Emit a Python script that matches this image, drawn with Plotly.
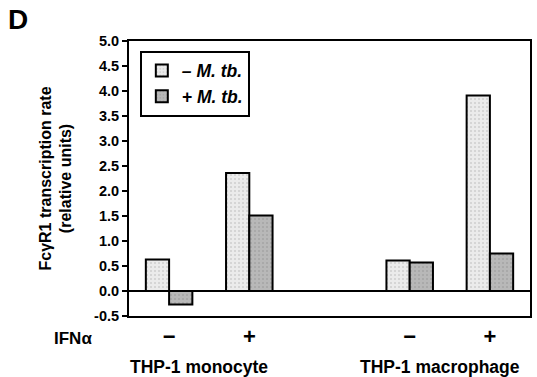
import plotly.graph_objects as go

cell_types = ["THP-1 monocyte", "THP-1 macrophage"]
ifn_labels = ["\u2212", "+", "\u2212", "+"]
minus_mtb = [0.63, 2.36, 0.61, 3.91]
plus_mtb = [-0.27, 1.51, 0.57, 0.75]
y_ticks = [-0.5, 0.0, 0.5, 1.0, 1.5, 2.0, 2.5, 3.0, 3.5, 4.0, 4.5, 5.0]

xpos = [0, 1, 3, 4]
FONT = "Liberation Sans, Arial, sans-serif"

fig = go.Figure()
fig.add_trace(go.Bar(
    x=xpos, y=minus_mtb, name="<b><i>\u2013 M. tb.</i></b>",
    marker=dict(color="#ebebeb", line=dict(color="black", width=2),
                pattern=dict(shape=".", fgcolor="#b0b0b0", bgcolor="#ebebeb", size=4, solidity=0.2)),
))
fig.add_trace(go.Bar(
    x=xpos, y=plus_mtb, name="<b><i>+ M. tb.</i></b>",
    marker=dict(color="#b3b3b3", line=dict(color="black", width=2),
                pattern=dict(shape=".", fgcolor="#8f8f8f", bgcolor="#b8b8b8", size=4, solidity=0.2)),
))

fig.update_layout(
    width=537, height=377,
    margin=dict(l=129, r=5, t=41, b=61),
    paper_bgcolor="white", plot_bgcolor="white",
    barmode="group", bargap=0.42, bargroupgap=0,
    font=dict(family=FONT, color="black", size=14),
    showlegend=True,
    legend=dict(x=0.027, y=0.965, xanchor="left", yanchor="top",
                bgcolor="white", bordercolor="black", borderwidth=2,
                font=dict(size=17.5, family=FONT), tracegroupgap=0,
                itemwidth=30),
    xaxis=dict(range=[-0.5, 4.5], tickvals=xpos,
               ticktext=[f"<b>{t}</b>" for t in ifn_labels],
               tickfont=dict(size=22, family=FONT), ticks="",
               showline=True, linecolor="black", linewidth=2, mirror=True,
               showgrid=False, zeroline=False, fixedrange=True),
    yaxis=dict(range=[-0.5, 5.0], tickvals=y_ticks,
               ticktext=[f"<b>{v:.1f}</b>" for v in y_ticks],
               tickfont=dict(size=14.5, family=FONT),
               ticks="outside", ticklen=5, tickwidth=1.5, tickcolor="black",
               showline=True, linecolor="black", linewidth=2, mirror=True,
               showgrid=False, zeroline=True, zerolinecolor="black", zerolinewidth=2,
               fixedrange=True,
               title=dict(text="<b>Fc\u03b3R1 transcription rate<br>(relative units)</b>",
                          font=dict(size=16, family=FONT), standoff=18)),
)

fig.add_annotation(text="<b>D</b>", xref="paper", yref="paper", x=-0.3, y=1.0,
                   xshift=-3, yshift=22, showarrow=False, font=dict(size=28, family=FONT),
                   xanchor="left", yanchor="middle")
fig.add_annotation(text="<b>IFN\u03b1</b>", xref="paper", yref="paper", x=-0.139, y=0,
                   yshift=-22, showarrow=False, font=dict(size=17, family=FONT),
                   xanchor="center", yanchor="middle")
for i, name in enumerate(cell_types):
    fig.add_annotation(text="<b>" + name + "</b>", xref="x", yref="paper",
                       x=(xpos[2 * i] + xpos[2 * i + 1]) / 2, y=0, xshift=-10, yshift=-51,
                       showarrow=False, font=dict(size=17.5, family=FONT),
                       xanchor="center", yanchor="middle")

fig.write_html("out.html", config={"displayModeBar": False},
               post_script="document.body.style.margin='0';document.body.style.padding='0';")
